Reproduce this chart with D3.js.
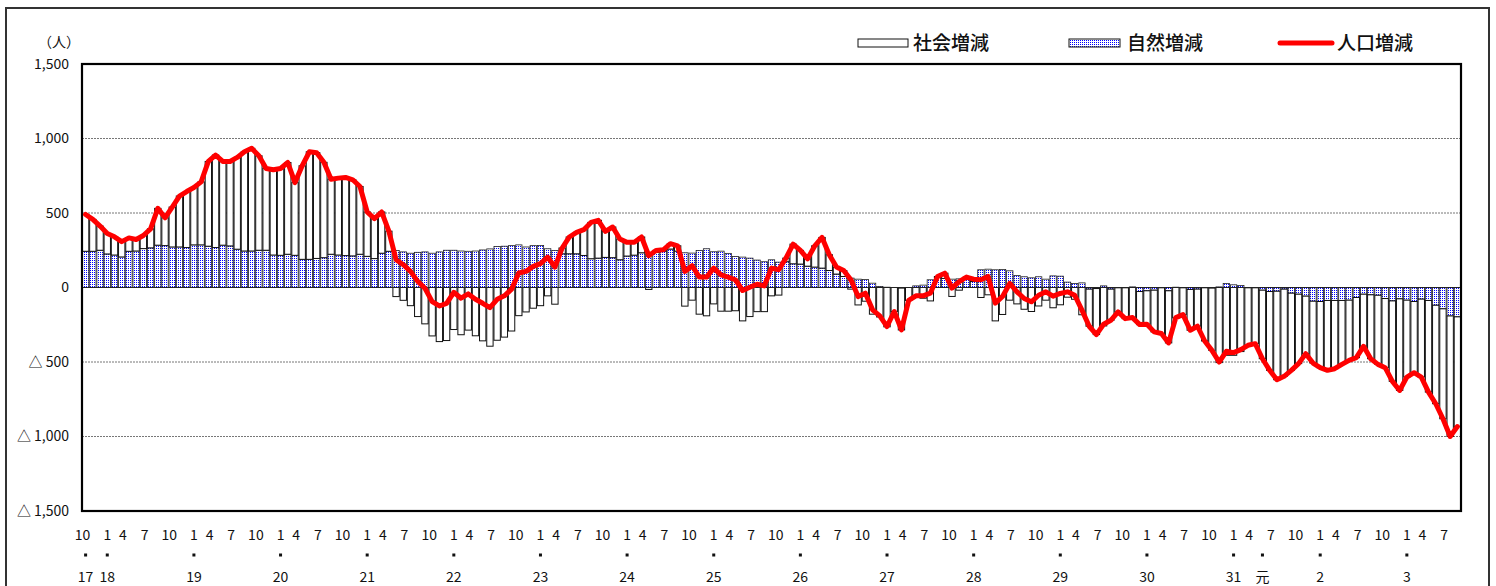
<!DOCTYPE html>
<html><head><meta charset="utf-8">
<script src="https://cdn.jsdelivr.net/npm/d3@7"></script>
<style>
body{margin:0;background:#fff}
svg{display:block}
text{font-family:"Noto Sans CJK JP","Liberation Sans",sans-serif;fill:#111}
</style>
</head><body>
<svg id="c" width="1496" height="586"></svg>
<script>
// ---- data (monthly, Oct 2005 – Aug 2021) ----
const startYear = 2005, startMonth = 10, monthCount = 191;
const socialChange = [247,214,162,137,122,103,90,77,88,128,247,187,268,342,376,385,423,569,621,562,567,616,666,689,634,549,572,583,616,488,628,722,
710,640,504,516,525,511,455,298,268,277,135,-61,-86,-122,-195,-244,-325,-363,-356,-282,-317,-286,-324,-358,-394,-354,-333,-292,-189,-164,-139,-122,
-56,-112,39,113,144,173,244,254,175,206,139,92,86,106,-13,14,9,36,36,-125,-85,-179,-190,-110,-159,-159,-156,-224,-195,-162,-162,-56,
-51,24,132,92,50,143,206,106,47,40,-11,-117,-92,-179,-198,-264,-161,-281,-87,-67,-72,-90,7,35,-60,-18,14,16,-67,-49,-224,-181,
-85,-110,-146,-161,-124,-85,-136,-116,-65,-79,-183,-249,-309,-258,-209,-162,-207,-206,-222,-225,-280,-307,-350,-204,-180,-274,-249,-357,-418,-504,-455,-455,
-430,-386,-375,-460,-529,-594,-585,-518,-466,-386,-415,-444,-469,-458,-429,-404,-404,-350,-429,-464,-464,-540,-615,-516,-478,-523,-615,-661,-738,-809,-736];
const naturalChange = [243,243,250,225,218,205,243,245,261,266,284,281,272,272,268,286,286,277,268,284,279,257,245,245,250,250,218,216,223,216,189,189,
195,200,223,218,214,212,223,209,194,230,243,248,239,230,236,239,230,239,250,250,245,243,245,252,259,275,277,281,286,272,281,282,
260,249,226,226,226,215,193,197,202,200,186,211,217,233,226,235,244,258,244,233,231,249,260,240,244,229,208,204,197,184,173,186,
170,173,159,157,143,137,130,114,90,74,63,56,54,29,7,2,0,-4,0,11,16,52,67,61,56,58,56,40,119,123,119,121,
112,81,72,65,72,56,78,76,36,27,31,-11,-7,11,-11,-2,-2,4,-27,-22,-18,-2,-22,2,-2,-13,-11,-2,-4,4,27,18,
13,-2,-2,-18,-27,-25,-11,-38,-45,-58,-92,-94,-87,-87,-87,-85,-67,-45,-49,-52,-74,-90,-76,-85,-94,-78,-87,-119,-143,-191,-197];
const populationChange = [490,457,412,362,340,308,333,322,349,394,531,468,540,614,644,671,709,846,889,846,846,873,911,934,884,799,790,799,839,704,817,911,
905,840,727,734,739,723,678,507,462,507,378,187,153,108,41,-5,-95,-124,-106,-32,-72,-43,-79,-106,-135,-79,-56,-11,97,108,142,160,
204,137,265,339,370,388,437,451,377,406,325,303,303,339,213,249,253,294,280,108,146,70,70,130,85,70,52,-20,2,22,11,130,
119,197,291,249,193,280,336,220,137,114,52,-61,-38,-150,-191,-262,-161,-285,-87,-56,-56,-38,74,96,-4,40,70,56,52,74,-105,-60,
27,-29,-74,-96,-52,-29,-58,-40,-29,-52,-152,-260,-316,-247,-220,-164,-209,-202,-249,-247,-298,-309,-372,-202,-182,-287,-260,-359,-422,-500,-428,-437,
-417,-388,-377,-478,-556,-619,-596,-556,-511,-444,-507,-538,-556,-545,-516,-489,-471,-395,-478,-516,-538,-630,-691,-601,-572,-601,-702,-780,-881,-1000,-933];
const yTickValues = [1500,1000,500,0,-500,-1000,-1500];
const monthTickLabels = [10,1,4,7];
const yearTickMonths = ["2005-10","2006-01","2007-01","2008-01","2009-01","2010-01","2011-01","2012-01","2013-01","2014-01","2015-01","2016-01","2017-01","2018-01","2019-01","2019-05","2020-01","2021-01"];
const yearTickLabels = ["17","18","19","20","21","22","23","24","25","26","27","28","29","30","31","元","2","3"];
const legendLabels = ["社会増減","自然増減","人口増減"];
const unitLabel = "（人）";

// categories (year, month) for each bar
const categories = d3.range(monthCount).map(i => {
  const t = startMonth - 1 + i;
  return {y: startYear + Math.floor(t / 12), m: t % 12 + 1};
});
const keyOf = c => c.y + "-" + String(c.m).padStart(2, "0");
const idxByKey = new Map(categories.map((c, i) => [keyOf(c), i]));

// ---- layout ----
const svg = d3.select("#c");
const plot = {left: 82, right: 1461, top: 64, bottom: 511};
const x = d3.scaleBand().domain(d3.range(monthCount)).range([plot.left, plot.right]).paddingInner(0.12).paddingOuter(0.06);
const y = d3.scaleLinear().domain([-1500, 1500]).range([plot.bottom, plot.top]);

const defs = svg.append("defs");
const pat = defs.append("pattern").attr("id", "dots").attr("patternUnits", "userSpaceOnUse").attr("width", 2).attr("height", 2);
pat.append("rect").attr("width", 2).attr("height", 2).attr("fill", "#fff");
pat.append("rect").attr("x", 0).attr("y", 0).attr("width", 1).attr("height", 1).attr("fill", "#0000ff");

// outer frame
svg.append("rect").attr("x", 6).attr("y", 8).attr("width", 1483).attr("height", 600)
  .attr("fill", "none").attr("stroke", "#333").attr("stroke-width", 2);

// gridlines
svg.append("g").selectAll("line").data(yTickValues.filter(v => v !== 0 && Math.abs(v) !== 1500)).join("line")
  .attr("x1", plot.left).attr("x2", plot.right)
  .attr("y1", d => y(d)).attr("y2", d => y(d))
  .attr("stroke", "#777").attr("stroke-width", 1).attr("stroke-dasharray", "2,1");

// bars
const gb = svg.append("g");
const bw = x.bandwidth();
gb.selectAll("rect.nat").data(naturalChange).join("rect").attr("class", "nat")
  .attr("x", (d, i) => x(i)).attr("width", bw)
  .attr("y", d => y(Math.max(0, d))).attr("height", d => Math.abs(y(d) - y(0)))
  .attr("fill", "url(#dots)").attr("stroke", "#222").attr("stroke-width", 0.8);
gb.selectAll("rect.soc").data(socialChange).join("rect").attr("class", "soc")
  .attr("x", (d, i) => x(i)).attr("width", bw)
  .attr("y", (d, i) => {
    const n = naturalChange[i];
    const base = (Math.sign(n) === Math.sign(d)) ? n : 0;
    return y(Math.max(base, base + d));
  })
  .attr("height", d => Math.abs(y(d) - y(0)))
  .attr("fill", "#fff").attr("stroke", "#111").attr("stroke-width", 1);

// zero line
svg.append("line").attr("x1", plot.left).attr("x2", plot.right).attr("y1", y(0)).attr("y2", y(0))
  .attr("stroke", "#222").attr("stroke-width", 1);

// plot border
svg.append("rect").attr("x", plot.left).attr("y", plot.top)
  .attr("width", plot.right - plot.left).attr("height", plot.bottom - plot.top)
  .attr("fill", "none").attr("stroke", "#000").attr("stroke-width", 2.2);

// population line
const line = d3.line().x((d, i) => x(i) + bw / 2).y(d => y(d)).curve(d3.curveLinear);
svg.append("path").datum(populationChange).attr("d", line)
  .attr("fill", "none").attr("stroke", "#ff0000").attr("stroke-width", 5)
  .attr("stroke-linejoin", "round").attr("stroke-linecap", "round");

// y axis labels
const fmt = d3.format(",");
svg.append("g").selectAll("text").data(yTickValues).join("text")
  .attr("x", 69).attr("y", d => y(d)).attr("dy", "0.35em").attr("text-anchor", "end")
  .style("font-size", "14px")
  .text(d => d < 0 ? "△ " + fmt(-d) : fmt(d));
svg.append("text").attr("x", 59).attr("y", 42).attr("dy", "0.35em").attr("text-anchor", "middle")
  .style("font-size", "14px").text(unitLabel);

// x axis labels
const monthDx = {1: 0, 4: -6, 7: -6, 10: -3};
const gx = svg.append("g").style("font-size", "14px").attr("text-anchor", "middle");
gx.selectAll("text.m").data(categories.map((c, i) => ({c, i})).filter(d => monthTickLabels.includes(d.c.m))).join("text")
  .attr("class", "m").attr("x", d => x(d.i) + bw / 2 + monthDx[d.c.m]).attr("y", 535).attr("dy", "0.35em")
  .text(d => d.c.m);
const yearPos = yearTickMonths.map((k, j) => ({i: idxByKey.get(k), label: yearTickLabels[j]}));
gx.selectAll("rect.dot").data(yearPos).join("rect").attr("class", "dot")
  .attr("x", d => x(d.i) + bw / 2 - 1.5).attr("y", 553.5).attr("width", 3).attr("height", 3).attr("fill", "#111");
gx.selectAll("text.yr").data(yearPos).join("text").attr("class", "yr")
  .attr("x", d => x(d.i) + bw / 2).attr("y", 577).attr("dy", "0.35em").text(d => d.label);

// legend
const lg = svg.append("g").style("font-size", "19px").style("font-weight", "500");
lg.append("rect").attr("x", 858).attr("y", 39).attr("width", 50).attr("height", 8).attr("fill", "#fff").attr("stroke", "#111").attr("stroke-width", 1);
lg.append("text").attr("x", 913).attr("y", 43).attr("dy", "0.36em").text(legendLabels[0]);
lg.append("rect").attr("x", 1069).attr("y", 39).attr("width", 51).attr("height", 8).attr("fill", "url(#dots)").attr("stroke", "#111").attr("stroke-width", 1);
lg.append("text").attr("x", 1127).attr("y", 43).attr("dy", "0.36em").text(legendLabels[1]);
lg.append("line").attr("x1", 1280).attr("x2", 1332).attr("y1", 43).attr("y2", 43).attr("stroke", "#ff0000").attr("stroke-width", 5).attr("stroke-linecap", "round");
lg.append("text").attr("x", 1337).attr("y", 43).attr("dy", "0.36em").text(legendLabels[2]);
</script>
</body></html>
